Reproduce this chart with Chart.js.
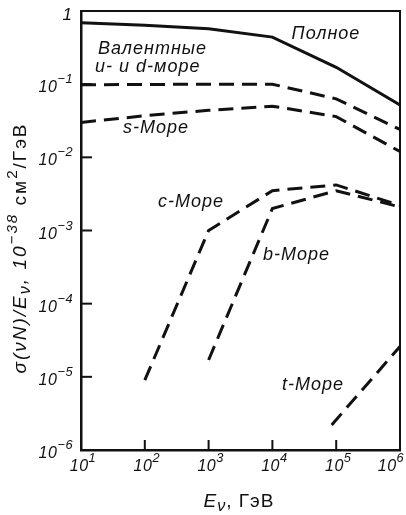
<!DOCTYPE html>
<html>
<head>
<meta charset="utf-8">
<script src="https://cdn.jsdelivr.net/npm/chart.js@4/dist/chart.umd.min.js"></script>
<style>
  html, body { margin: 0; padding: 0; background: #fff; }
  #wrap { width: 406px; height: 515px; position: relative; }
</style>
</head>
<body>
<div id="wrap"><canvas id="c"></canvas></div>
<script>
// Energy (GeV) and sigma/E (10^-38 cm^2/GeV) for each contribution
const totalE = [10, 100, 1e3, 1e4, 1e5, 1e6];
const totalSigma = [0.69, 0.64, 0.57, 0.44, 0.17, 0.052];

const valenceE = [10, 1e3, 1e4, 1e5, 1e6];
const valenceSigma = [0.098, 0.1, 0.1, 0.063, 0.024];

const sSeaE = [10, 100, 1e3, 1e4, 1e5, 1e6];
const sSeaSigma = [0.030, 0.037, 0.044, 0.050, 0.036, 0.012];

const cSeaE = [100, 1e3, 1e4, 1e5, 1e6];
const cSeaSigma = [9e-6, 1.0e-3, 3.5e-3, 4.2e-3, 2.2e-3];

const bSeaE = [1e3, 1e4, 1e5, 1e6];
const bSeaSigma = [1.7e-5, 2.0e-3, 3.5e-3, 2.1e-3];

const tSeaE = [8.5e4, 1e6];
const tSeaSigma = [2.2e-6, 2.6e-5];

// Tick exponents
const xExponents = [1, 2, 3, 4, 5, 6];
const yExponents = [0, -1, -2, -3, -4, -5, -6];

// Curve captions: [text, x, y] in data units (left edge, baseline)
const captions = [
  ['Полное', 2.0e4, 0.414],
  ['Валентные', 18.5, 0.259],
  ['u- и d-море', 16.6, 0.147],
  ['s-Море', 45.5, 0.0216],
  ['c-Море', 161, 0.0021],
  ['b-Море', 7130, 3.97e-4],
  ['t-Море', 1.41e4, 6.64e-6]
];

const FONT = '"Liberation Sans", Arial, sans-serif';

function pts(xs, ys) { return xs.map((x, i) => ({ x: x, y: ys[i] })); }

function line(data, dashed) {
  return {
    data: data,
    showLine: true,
    pointRadius: 0,
    borderColor: '#111',
    borderWidth: 3,
    borderDash: dashed ? [15, 8] : [],
    fill: false,
    tension: 0
  };
}

// Text runs with optional superscript/subscript and upright parts
function setFont(ctx, p, size) {
  const s = p.s ? size * p.s : size;
  ctx.font = (p.up ? '' : 'italic ') + s + 'px ' + FONT;
}
function richWidth(ctx, parts, size) {
  let w = 0;
  for (const p of parts) { setFont(ctx, p, size); w += ctx.measureText(p.t).width; }
  return w;
}
function drawRich(ctx, parts, x, y, size, align, spacing) {
  ctx.letterSpacing = (spacing || 0) + 'px';
  const w = richWidth(ctx, parts, size);
  let cx = align === 'center' ? x - w / 2 : align === 'right' ? x - w : x;
  for (const p of parts) {
    setFont(ctx, p, size);
    ctx.textAlign = 'left';
    ctx.textBaseline = 'alphabetic';
    ctx.fillText(p.t, cx, y + (p.dy || 0));
    cx += ctx.measureText(p.t).width;
  }
  ctx.letterSpacing = '0px';
}

const decor = {
  id: 'decor',
  afterDraw(chart) {
    const ctx = chart.ctx;
    const a = chart.chartArea;
    const xs = chart.scales.x, ys = chart.scales.y;
    ctx.save();
    ctx.strokeStyle = '#111';
    ctx.fillStyle = '#111';

    // frame (top and right)
    ctx.lineWidth = 2;
    ctx.beginPath();
    ctx.moveTo(a.left, a.top); ctx.lineTo(a.right, a.top); ctx.lineTo(a.right, a.bottom);
    ctx.stroke();

    // inner tick marks
    xExponents.forEach(e => {
      const px = xs.getPixelForValue(Math.pow(10, e));
      ctx.beginPath(); ctx.moveTo(px, a.bottom); ctx.lineTo(px, a.bottom - 10); ctx.stroke();
    });
    yExponents.forEach(e => {
      const py = ys.getPixelForValue(Math.pow(10, e));
      ctx.beginPath(); ctx.moveTo(a.left, py); ctx.lineTo(a.left + 11, py); ctx.stroke();
    });

    // x tick labels
    xExponents.forEach(e => {
      const px = Math.min(xs.getPixelForValue(Math.pow(10, e)) + 2, 391);
      drawRich(ctx, [{ t: '10' }, { t: String(e), s: 0.8, dy: -9 }], px, a.bottom + 21, 16, 'center', 0.5);
    });
    // y tick labels
    yExponents.forEach(e => {
      const py = ys.getPixelForValue(Math.pow(10, e));
      if (e === 0) {
        drawRich(ctx, [{ t: '1' }], 72, py + 9, 17, 'right');
      } else {
        drawRich(ctx, [{ t: '10' }, { t: '\u2212' + (-e), s: 0.8, dy: -9 }], 73, py + 8, 16, 'right', 0.5);
      }
    });

    // x axis title
    drawRich(ctx, [{ t: 'E' }, { t: '\u03BD', s: 0.85, dy: 4 }, { t: ', ГэВ', up: true }], 239, 507, 19, 'center', 1);

    // y axis title
    ctx.save();
    ctx.translate(26, 248);
    ctx.rotate(-Math.PI / 2);
    drawRich(ctx, [
      { t: 'σ(νN)/E' }, { t: 'ν', s: 0.85, dy: 4 }, { t: ', 10' },
      { t: '\u221238', s: 0.8, dy: -9 }, { t: ' см', up: true }, { t: '2', s: 0.8, dy: -9, up: true }, { t: '/ГэВ', up: true }
    ], 0, 0, 19, 'center', 2);
    ctx.restore();

    // curve captions
    captions.forEach(c => {
      drawRich(ctx, [{ t: c[0] }], xs.getPixelForValue(c[1]), ys.getPixelForValue(c[2]), 18, 'left', 1);
    });
    ctx.restore();
  }
};

new Chart(document.getElementById('c'), {
  type: 'scatter',
  data: {
    datasets: [
      line(pts(totalE, totalSigma), false),
      line(pts(valenceE, valenceSigma), true),
      line(pts(sSeaE, sSeaSigma), true),
      line(pts(cSeaE, cSeaSigma), true),
      line(pts(bSeaE, bSeaSigma), true),
      line(pts(tSeaE, tSeaSigma), true)
    ]
  },
  options: {
    responsive: true,
    maintainAspectRatio: false,
    animation: false,
    layout: { padding: { left: 81, top: 11, right: 6, bottom: 65 } },
    plugins: { legend: { display: false }, tooltip: { enabled: false } },
    scales: {
      x: {
        type: 'logarithmic', min: 10, max: 1e6,
        grid: { display: false, drawTicks: false },
        ticks: { display: false },
        border: { display: true, color: '#111', width: 2.5 }
      },
      y: {
        type: 'logarithmic', min: 1e-6, max: 1,
        grid: { display: false, drawTicks: false },
        ticks: { display: false },
        border: { display: true, color: '#111', width: 2.5 }
      }
    }
  },
  plugins: [decor]
});
</script>
</body>
</html>
